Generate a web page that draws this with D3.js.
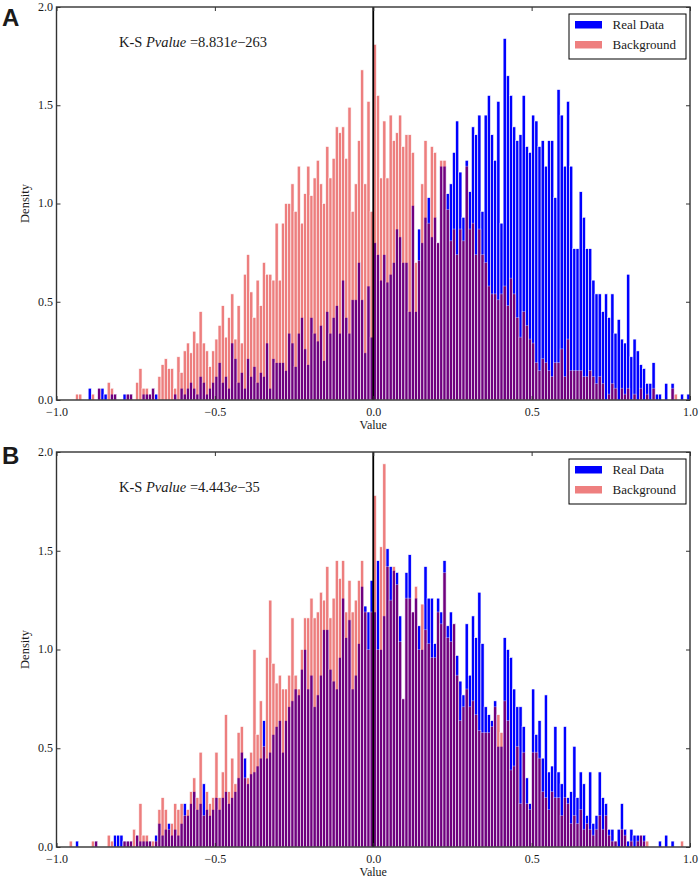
<!DOCTYPE html>
<html><head><meta charset="utf-8">
<script src="https://cdn.jsdelivr.net/npm/d3@7"></script>
<style>body{margin:0;background:#fff}svg{display:block}text{font-family:"Liberation Serif","Times New Roman",serif;fill:#1a1a1a}</style>
</head><body>
<svg id="chart" width="700" height="878"></svg>
<script>
// ---------- data ----------
const binStart = -1.0;
const binWidth = 0.01;          // 200 bins from -1.0 to 1.0
const xTicks = [-1, -0.5, 0, 0.5, 1];
const xTickLabels = ["\u22121.0", "\u22120.5", "0.0", "0.5", "1.0"];
const yTicks = [0, 0.5, 1, 1.5, 2];
const yTickLabels = ["0.0", "0.5", "1.0", "1.5", "2.0"];
const seriesNames = ["Real Data", "Background"];
const panelLabels = ["A", "B"];
const pMantissas = ["8.831", "4.443"];
const pExponents = ["263", "35"];

const realA = [
0,0,0,0,0,0,0,0,0,0, 0.06,0,0,0.06,0.06,0.03,0,0.03,0.03,0,
0,0.03,0.03,0.03,0,0,0,0.03,0.03,0.03, 0.06,0.03,0,0,0,0,0,0.03,0,0.06,
0.03,0.06,0.09,0.06,0.03,0.12,0.09,0.03,0.06,0.09, 0.12,0.19,0.09,0.12,0.06,0.29,0.21,0.09,0.14,0.06,
0.21,0.12,0.17,0.09,0.14,0.12,0.29,0.06,0.21,0.19, 0.19,0.19,0.15,0.34,0.29,0.17,0.34,0.42,0.26,0.18,
0.42,0.34,0.30,0.38,0.20,0.45,0.34,0.42,0.48,0.34, 0.61,0.42,0.34,0.51,0.51,0.70,0.51,0.24,0.58,0.32,
0.80,0.74,0.61,0.74,0.60,0.64,0.70,0.87,0.83,0.70, 0.70,0.45,0.99,0.45,0.87,0.80,0.93,1.03,0.83,0.93,
0.80,1.19,1.19,1.05,1.10,1.26,1.42,1.16,0.93,1.22, 1.06,1.39,1.35,1.45,0.96,1.45,1.55,1.35,1.22,1.52,
0.90,1.84,1.65,1.55,1.39,1.32,1.35,1.55,1.29,1.26, 1.45,1.42,1.29,1.32,1.19,1.32,1.32,1.03,1.58,1.45,
1.19,1.52,1.19,0.77,0.77,1.06,0.93,0.77,0.77,0.61, 0.54,0.54,0.45,0.54,0.42,0.54,0.34,0.41,0.31,0.29,
0.64,0.22,0.31,0.25,0.18,0.16,0.085,0.085,0.19,0.03, 0.03,0,0.085,0,0.085,0,0,0.03,0,0.03
];
const bgA = [
0,0,0,0,0,0,0.03,0.03,0,0, 0,0.03,0,0.06,0,0,0.09,0.06,0.03,0,
0,0,0.03,0.03,0,0.09,0.16,0.06,0.06,0.03, 0.06,0,0.12,0.18,0.21,0.16,0.16,0.06,0.22,0.14,
0.25,0.29,0.24,0.35,0.29,0.45,0.29,0.25,0.17,0.25, 0.31,0.38,0.48,0.32,0.42,0.54,0.31,0.48,0.29,0.64,
0.74,0.55,0.42,0.61,0.48,0.70,0.64,0.64,0.61,0.90, 0.61,0.90,1.00,1.00,1.10,0.96,1.19,0.90,1.05,1.19,
1.04,1.13,1.22,1.10,1.00,1.29,1.13,1.23,1.39,1.36, 1.39,1.23,1.49,0.96,1.10,1.32,1.68,1.10,1.52,0.96,
1.81,1.55,1.13,1.42,1.13,1.45,1.32,1.36,1.45,1.29, 1.35,1.35,1.26,0.70,0.71,1.10,1.32,0.90,1.29,1.26,
0.80,1.22,1.22,0.97,0.81,0.87,0.74,0.87,0.81,1.19, 0.87,0.90,0.74,0.87,0.74,0.70,0.58,0.54,0.54,0.51,
0.54,0.58,0.48,0.62,0.54,0.42,0.32,0.45,0.38,0.31, 0.29,0.19,0.15,0.21,0.19,0.15,0.12,0.19,0.19,0.26,
0.12,0.31,0.15,0.15,0.15,0.15,0.12,0.12,0.15,0.12, 0.085,0.12,0.085,0,0.03,0.085,0.06,0,0.06,0.03,
0.06,0,0.03,0,0.06,0,0.03,0,0.06,0, 0,0,0,0,0.06,0.03,0,0,0,0
];
const realB = [
0,0,0,0,0,0,0.03,0,0,0, 0,0,0.03,0,0,0,0,0,0.06,0.06,
0.06,0.03,0.03,0.03,0,0.06,0.03,0.03,0.03,0.03, 0,0.06,0.12,0.06,0.09,0.12,0.06,0.09,0.06,0.12,
0.22,0.16,0.22,0.28,0.19,0.22,0.32,0.19,0.16,0.19, 0.25,0.19,0.25,0.28,0.22,0.25,0.28,0.35,0.48,0.45,
0.32,0.37,0.38,0.41,0.45,0.64,0.45,0.48,0.57,0.61, 0.64,0.48,0.64,0.71,0.74,0.80,0.77,0.90,1.00,0.80,
0.87,0.71,0.77,0.87,1.10,1.10,0.90,0.84,0.80,0.96, 1.26,1.06,1.15,0.80,0.87,1.03,1.32,1.22,1.19,1.35,
1.19,1.45,1.00,1.17,1.51,1.42,1.40,1.39,1.17,0.75, 1.39,1.48,1.19,1.26,1.12,1.00,1.42,1.26,1.26,1.03,
1.26,1.19,1.45,1.12,1.19,1.13,0.97,0.84,0.77,1.13, 0.87,1.17,1.06,1.29,1.03,0.71,0.67,0.64,0.74,0.51,
0.51,1.06,1.00,0.96,0.80,0.71,0.71,0.61,0.35,0.22, 0.80,0.57,0.64,0.45,0.77,0.38,0.41,0.61,0.38,0.32,
0.61,0.25,0.28,0.51,0.25,0.38,0.32,0.16,0.38,0.12, 0.16,0.38,0.25,0.22,0.09,0.09,0.03,0.09,0.22,0.09,
0.03,0.09,0.06,0.06,0.06,0.06,0,0,0,0, 0.03,0,0.06,0,0.03,0,0,0,0,0
];
const bgB = [
0,0,0,0,0.03,0,0,0,0,0, 0,0.03,0.03,0,0,0,0.06,0.03,0,0,
0,0.03,0.03,0.03,0.09,0.06,0.22,0.06,0.06,0.03, 0.03,0.03,0.19,0.25,0.19,0.09,0.12,0.22,0.19,0.22,
0.16,0.19,0.28,0.35,0.25,0.48,0.16,0.28,0.22,0.25, 0.48,0.25,0.38,0.67,0.28,0.45,0.32,0.58,0.61,0.35,
0.35,0.48,1.00,0.57,0.74,0.51,0.96,1.25,0.93,0.83, 0.87,0.80,0.80,0.87,1.16,0.87,0.80,1.00,1.16,1.16,
1.26,1.16,1.19,1.29,1.25,1.42,1.16,1.26,1.45,1.36, 1.45,1.19,1.35,1.19,1.25,1.35,1.45,1.19,1.00,1.19,
1.78,1.00,1.52,1.94,1.42,1.25,1.42,1.33,1.04,0.75, 1.26,1.26,1.19,1.32,1.00,1.23,1.10,1.03,0.96,0.96,
1.19,1.13,1.39,1.06,1.04,1.13,0.87,0.64,0.71,0.80, 0.71,0.74,0.67,0.59,0.58,0.58,0.58,0.61,0.71,0.67,
0.58,0.74,0.64,0.39,0.41,0.51,0.22,0.48,0.22,0.19, 0.48,0.48,0.45,0.28,0.25,0.19,0.28,0.25,0.25,0.16,
0.25,0.22,0.12,0.16,0.12,0.19,0.09,0.12,0.09,0.06, 0.09,0.16,0.09,0.16,0.06,0.03,0.03,0,0.09,0.06,
0,0.03,0,0.03,0.06,0.03,0.03,0,0,0, 0,0,0,0,0,0,0,0.03,0,0
];

// ---------- layout ----------
const left = 56.5, right = 690;
const panels = [
  { label: panelLabels[0], real: realA, bg: bgA, mant: pMantissas[0], exp: pExponents[0], top: 7, bottom: 400, labelY: 26 },
  { label: panelLabels[1], real: realB, bg: bgB, mant: pMantissas[1], exp: pExponents[1], top: 452, bottom: 847, labelY: 464 }
];
const blue = "#0000ff", red = "#dd0000";

const svg = d3.select("#chart");
const x = d3.scaleLinear().domain([-1, 1]).range([left, right]);

panels.forEach(p => {
  const y = d3.scaleLinear().domain([0, 2]).range([p.bottom, p.top]);
  const g = svg.append("g");
  const bw = x(binStart + binWidth) - x(binStart);
  const toBins = arr => arr.map((v, i) => ({ x0: binStart + i * binWidth, v })).filter(d => d.v > 0);

  // Real data bars
  g.append("g").selectAll("rect").data(toBins(p.real)).join("rect")
    .attr("x", d => x(d.x0)).attr("width", bw)
    .attr("y", d => y(d.v)).attr("height", d => y(0) - y(d.v))
    .attr("fill", blue).attr("stroke", "#fff").attr("stroke-width", 0.6);

  // Background bars (alpha 0.5)
  g.append("g").attr("opacity", 0.5).selectAll("rect").data(toBins(p.bg)).join("rect")
    .attr("x", d => x(d.x0)).attr("width", bw)
    .attr("y", d => y(d.v)).attr("height", d => y(0) - y(d.v))
    .attr("fill", red).attr("stroke", "#fff").attr("stroke-width", 0.6);

  // zero line
  g.append("line").attr("x1", x(0)).attr("x2", x(0)).attr("y1", y(2)).attr("y2", y(0))
    .attr("stroke", "#000").attr("stroke-width", 1.8);

  // axes
  const fmtX = (d) => xTickLabels[xTicks.indexOf(d)];
  const fmtY = (d) => yTickLabels[yTicks.indexOf(d)];
  const axB = g.append("g").attr("transform", `translate(0,${p.bottom})`)
    .call(d3.axisBottom(x).tickValues(xTicks).tickFormat(fmtX).tickSizeInner(-4).tickSizeOuter(0).tickPadding(7));
  const axT = g.append("g").attr("transform", `translate(0,${p.top})`)
    .call(d3.axisTop(x).tickValues(xTicks).tickFormat("").tickSizeInner(-4).tickSizeOuter(0));
  const axL = g.append("g").attr("transform", `translate(${left},0)`)
    .call(d3.axisLeft(y).tickValues(yTicks).tickFormat(fmtY).tickSizeInner(-4).tickSizeOuter(0).tickPadding(3.5));
  const axR = g.append("g").attr("transform", `translate(${right},0)`)
    .call(d3.axisRight(y).tickValues(yTicks).tickFormat("").tickSizeInner(-4).tickSizeOuter(0));
  [axB, axT, axL, axR].forEach(a => {
    a.select(".domain").remove();
    a.selectAll("line").attr("stroke", "#333").attr("stroke-width", 1);
    a.selectAll("text").attr("font-family", "Liberation Serif, serif").attr("font-size", 12).attr("fill", "#1a1a1a");
  });
  axL.selectAll("text").attr("dy", "0.28em");

  // frame
  g.append("rect").attr("x", left).attr("y", p.top).attr("width", right - left).attr("height", p.bottom - p.top)
    .attr("fill", "none").attr("stroke", "#333").attr("stroke-width", 1.4);

  // axis labels
  g.append("text").attr("x", (left + right) / 2).attr("y", p.bottom + 29)
    .attr("text-anchor", "middle").attr("font-size", 12).text("Value");
  g.append("text").attr("transform", `translate(29,${(p.top + p.bottom) / 2}) rotate(-90)`)
    .attr("text-anchor", "middle").attr("font-size", 12.5).text("Density");

  // KS annotation
  const t = g.append("text").attr("x", 119).attr("y", p.top + 40).attr("font-size", 14.5);
  t.append("tspan").text("K-S ");
  t.append("tspan").attr("font-style", "italic").text("Pvalue");
  t.append("tspan").text(" =" + p.mant);
  t.append("tspan").attr("font-style", "italic").text("e");
  t.append("tspan").text("\u2212" + p.exp);

  // legend
  const lg = g.append("g").attr("transform", `translate(569,${p.top + 7})`);
  lg.append("rect").attr("width", 117).attr("height", 45).attr("fill", "#fff").attr("stroke", "#000").attr("stroke-width", 1);
  [blue, red].forEach((c, i) => {
    lg.append("rect").attr("x", 6).attr("y", 7 + i * 20).attr("width", 27).attr("height", 7.5)
      .attr("fill", c).attr("fill-opacity", i === 1 ? 0.5 : 1);
    lg.append("text").attr("x", 43.5).attr("y", 15 + i * 20).attr("font-size", 13).text(seriesNames[i]);
  });

  // panel letter
  svg.append("text").attr("x", 2).attr("y", p.labelY)
    .attr("font-weight", "bold").attr("font-size", 24)
    .style("font-family", "Liberation Sans, Arial, sans-serif").attr("fill", "#000").text(p.label);
});
</script>
</body></html>
